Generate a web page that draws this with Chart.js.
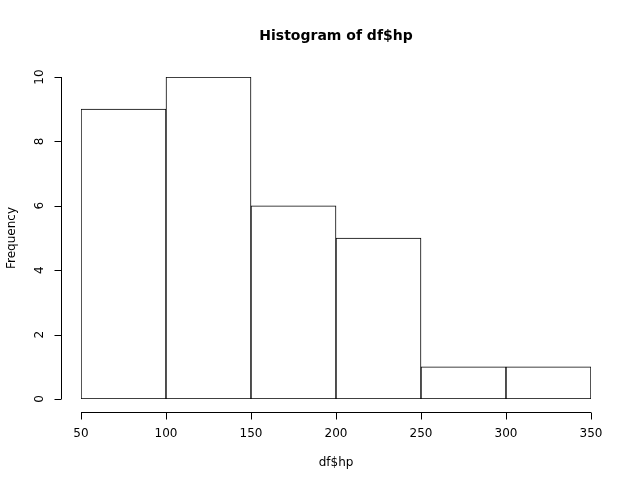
<!DOCTYPE html>
<html>
<head>
<meta charset="utf-8">
<script src="https://cdn.jsdelivr.net/npm/chart.js@4"></script>
<style>
  html, body { margin: 0; padding: 0; background: #fff; }
  #wrap { width: 620px; height: 478px; }
</style>
</head>
<body>
<div id="wrap"><canvas id="hist" width="620" height="478"></canvas></div>
<script>
// Datos del histograma (mtcars hp)
const cortes = [50, 100, 150, 200, 250, 300, 350];
const frecuencias = [9, 10, 6, 5, 1, 1];
const ticksX = [50, 100, 150, 200, 250, 300, 350];
const ticksY = [0, 2, 4, 6, 8, 10];

const centros = frecuencias.map((f, i) => ({ x: (cortes[i] + cortes[i + 1]) / 2, y: f }));

const fuente = '"DejaVu Sans", sans-serif';

// Ejes estilo R dibujados con las escalas de Chart.js
const ejesR = {
    id: 'ejesR',
    afterDraw(chart) {
        const ctx = chart.ctx;
        const sx = chart.scales.x;
        const sy = chart.scales.y;
        ctx.save();
        ctx.strokeStyle = '#000';
        ctx.fillStyle = '#000';
        ctx.lineWidth = 1;

        // eje x
        const yEje = 412.5;
        ctx.beginPath();
        ctx.moveTo(sx.getPixelForValue(ticksX[0]), yEje);
        ctx.lineTo(sx.getPixelForValue(ticksX[ticksX.length - 1]), yEje);
        ticksX.forEach(t => {
            const px = Math.round(sx.getPixelForValue(t)) + 0.5;
            ctx.moveTo(px, yEje);
            ctx.lineTo(px, yEje + 7);
        });
        ctx.stroke();
        ctx.font = '12px ' + fuente;
        ctx.textAlign = 'center';
        ctx.textBaseline = 'middle';
        ticksX.forEach(t => ctx.fillText(String(t), sx.getPixelForValue(t), 434));

        // eje y
        const xEje = 61.5;
        ctx.beginPath();
        ctx.moveTo(xEje, sy.getPixelForValue(ticksY[0]));
        ctx.lineTo(xEje, sy.getPixelForValue(ticksY[ticksY.length - 1]));
        ticksY.forEach(t => {
            const py = Math.round(sy.getPixelForValue(t)) + 0.5;
            ctx.moveTo(xEje, py);
            ctx.lineTo(xEje - 7, py);
        });
        ctx.stroke();
        ticksY.forEach(t => {
            ctx.save();
            ctx.translate(40, sy.getPixelForValue(t));
            ctx.rotate(-Math.PI / 2);
            ctx.fillText(String(t), 0, 0);
            ctx.restore();
        });

        // títulos
        const cx = (chart.chartArea.left + chart.chartArea.right) / 2;
        ctx.font = 'bold 14px ' + fuente;
        ctx.fillText('Histogram of df$hp', cx, 36);
        ctx.font = '12px ' + fuente;
        ctx.fillText('df$hp', cx, 463);
        ctx.save();
        ctx.translate(12, (chart.chartArea.top + chart.chartArea.bottom) / 2);
        ctx.rotate(-Math.PI / 2);
        ctx.fillText('Frequency', 0, 0);
        ctx.restore();
        ctx.restore();
    }
};

new Chart(document.getElementById('hist'), {
    type: 'bar',
    data: {
        datasets: [{
            data: centros,
            backgroundColor: '#fff',
            borderColor: '#000',
            borderWidth: 1,
            borderSkipped: false,
            barPercentage: 1,
            categoryPercentage: 1
        }]
    },
    options: {
        responsive: false,
        animation: false,
        layout: { padding: { left: 81, right: 29, top: 77, bottom: 79 } },
        plugins: { legend: { display: false }, tooltip: { enabled: false } },
        scales: {
            x: { type: 'linear', min: 50, max: 350, offset: false, grid: { offset: false }, display: false },
            y: { min: 0, max: 10, display: false }
        }
    },
    plugins: [ejesR]
});
</script>
</body>
</html>
